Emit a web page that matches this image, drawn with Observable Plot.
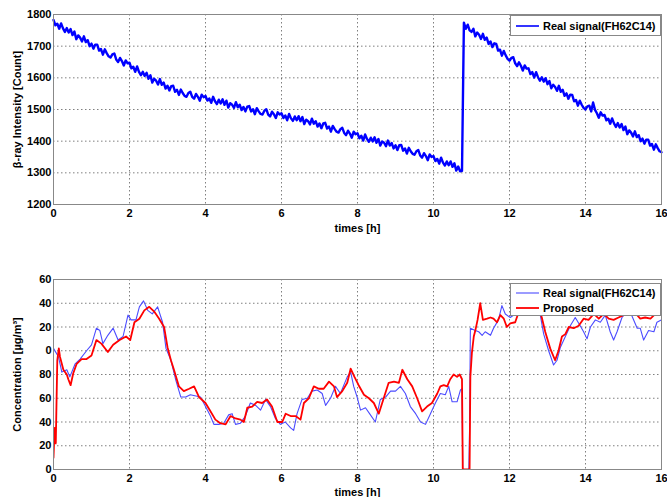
<!DOCTYPE html>
<html><head><meta charset="utf-8">
<script src="https://cdn.jsdelivr.net/npm/d3@7"></script>
<script src="https://cdn.jsdelivr.net/npm/@observablehq/plot@0.6"></script>
<style>
body{margin:0;background:#fff;}
#wrap{position:relative;width:667px;height:497px;overflow:hidden;font-family:"Liberation Sans",Arial,sans-serif;}
.panel{position:absolute;left:0;}
.legend{position:absolute;background:#fff;border:1px solid #888;box-sizing:border-box;font:bold 11px "Liberation Sans",Arial,sans-serif;color:#000;}
.item{position:absolute;left:5px;height:14px;display:flex;align-items:center;white-space:nowrap;}
.item svg{margin-right:4px;}
</style>
</head><body>
<div id="wrap"></div>
<script>
// ---------- data ----------
const xTicks = [0, 2, 4, 6, 8, 10, 12, 14, 16];
const yTicksTop = [1200, 1300, 1400, 1500, 1600, 1700, 1800];
const yTicksBottom = [0, 20, 40, 60, 80, 100, 120, 140, 160];
const yTickLabelsBottom = ["0", "20", "40", "60", "80", "0", "20", "40", "60"];

// top panel: beta-ray counts, segment 1 (0.00 h .. 10.75 h, sampled every 0.05 h)
const seg1Start = 0.0, seg1Step = 0.05;
const seg1Counts = [
 1783,1766,1771,1755,1772,1756,1745,1757,1743,1754,
 1735,1746,1722,1734,1727,1715,1731,1713,1719,1700,
 1708,1692,1705,1705,1686,1691,1673,1690,1678,1668,
 1664,1674,1677,1658,1650,1663,1653,1639,1655,1646,
 1648,1630,1635,1619,1636,1619,1608,1619,1606,1616,
 1597,1608,1585,1597,1591,1579,1596,1578,1585,1566,
 1575,1560,1574,1575,1556,1562,1546,1563,1552,1543,
 1540,1552,1556,1540,1534,1549,1540,1528,1547,1539,
 1543,1528,1535,1521,1540,1526,1517,1531,1519,1532,
 1515,1528,1506,1520,1515,1505,1523,1507,1515,1498,
 1508,1494,1509,1511,1494,1501,1485,1504,1494,1486,
 1484,1496,1501,1484,1478,1493,1485,1473,1491,1484,
 1488,1473,1481,1466,1486,1472,1464,1478,1466,1479,
 1463,1476,1454,1468,1463,1453,1471,1455,1463,1446,
 1456,1441,1456,1458,1440,1446,1430,1448,1438,1430,
 1427,1438,1442,1426,1419,1433,1424,1411,1430,1422,
 1425,1409,1417,1402,1421,1407,1398,1411,1399,1412,
 1395,1407,1386,1399,1395,1384,1402,1386,1394,1377,
 1387,1372,1387,1388,1370,1377,1361,1379,1368,1360,
 1357,1368,1372,1355,1348,1362,1353,1340,1358,1350,
 1353,1337,1344,1329,1348,1332,1323,1336,1324,1336,
 1319,1330,1307,1320,1305,1306
];
// segment 2 (10.80 h .. 16.00 h, sampled every 0.05 h)
const seg2Start = 10.8, seg2Step = 0.05;
const seg2Counts = [
 1774,1755,1768,1750,
 1745,1755,1731,1743,1736,1723,1739,1720,1727,1707,
 1715,1697,1709,1707,1686,1689,1670,1685,1671,1660,
 1654,1663,1665,1646,1637,1649,1638,1623,1639,1629,
 1630,1612,1618,1601,1618,1602,1591,1602,1588,1599,
 1580,1590,1567,1578,1571,1559,1575,1556,1562,1543,
 1551,1534,1547,1546,1526,1530,1512,1528,1515,1505,
 1500,1510,1512,1494,1522,1499,1488,1474,1491,1481,
 1483,1466,1471,1455,1472,1456,1445,1457,1443,1454,
 1435,1446,1422,1434,1427,1415,1431,1413,1419,1400,
 1408,1392,1405,1405,1386,1391,1373,1390,1378,1368,
 1365
];

// bottom panel: real signal
const realT = [0,0.13,0.22,0.35,0.43,0.57,0.7,0.87,1.0,1.13,1.22,1.3,1.43,1.57,1.7,1.83,1.96,2.04,2.17,2.26,2.37,2.48,2.6,2.74,2.87,2.96,3.09,3.22,3.35,3.48,3.6,3.87,4.0,4.13,4.22,4.35,4.48,4.61,4.7,4.79,4.92,5.05,5.18,5.32,5.45,5.58,5.71,5.84,5.97,6.1,6.24,6.32,6.41,6.54,6.68,6.8,6.94,7.07,7.16,7.29,7.42,7.55,7.73,7.82,7.9,7.99,8.08,8.21,8.34,8.47,8.6,8.74,8.87,9.0,9.13,9.26,9.39,9.53,9.66,9.79,9.92,10.05,10.18,10.31,10.4,10.49,10.62,10.71,10.75,10.77,10.93,10.95,10.97,11.1,11.19,11.28,11.36,11.5,11.58,11.71,11.8,11.89,12.02,12.15,12.3,12.45,12.6,12.75,12.81,12.9,13.03,13.16,13.25,13.34,13.47,13.6,13.73,13.86,13.95,14.04,14.13,14.26,14.39,14.52,14.65,14.74,14.83,14.96,15.09,15.2,15.36,15.44,15.53,15.66,15.8,15.88,16.0];
const realV = [102,95,82,84,78,89,93,100,105,119,117,106,113,119,109,112,130,126,126,137,142,134,131,137,124,102,92,75,61,61,63,61,53,45,38,38,39,46,47,38,39,45,56,54,50,59,53,43,38,40,35,33,47,59,60,66,67,64,54,60,70,64,78,82,70,61,50,52,46,40,59,61,66,66,70,64,53,47,40,38,47,56,64,63,70,57,57,67,68,0,0,35,119,117,116,113,116,113,119,126,138,131,128,131,140,146,142,136,130,114,100,88,92,103,112,121,128,121,116,110,120,126,124,130,116,109,116,128,133,131,119,119,109,117,116,124,126];

// bottom panel: proposed
const propT = [0,0.03,0.06,0.1,0.14,0.17,0.26,0.35,0.39,0.45,0.52,0.61,0.74,0.87,1.0,1.13,1.26,1.43,1.57,1.74,1.91,2.02,2.13,2.26,2.39,2.52,2.65,2.78,2.91,3.0,3.09,3.17,3.3,3.43,3.57,3.7,3.83,4.0,4.13,4.26,4.39,4.53,4.66,4.79,4.92,5.01,5.1,5.23,5.36,5.49,5.62,5.75,5.89,6.02,6.11,6.24,6.37,6.5,6.59,6.72,6.85,6.98,7.11,7.25,7.38,7.46,7.6,7.73,7.82,7.92,8.03,8.17,8.3,8.43,8.56,8.69,8.82,8.96,9.09,9.18,9.31,9.44,9.57,9.7,9.83,9.96,10.1,10.18,10.27,10.36,10.44,10.53,10.62,10.69,10.75,10.77,10.95,10.97,11.01,11.06,11.1,11.16,11.23,11.3,11.41,11.5,11.58,11.67,11.76,11.85,11.93,12.02,12.15,12.3,12.45,12.6,12.75,12.81,12.85,12.94,13.07,13.2,13.29,13.38,13.47,13.56,13.69,13.82,13.95,14.08,14.22,14.35,14.48,14.61,14.74,14.87,15.0,15.15,15.3,15.36,15.44,15.57,15.71,15.84,15.93,16.0];
const propV = [10,35,22,92,102,95,84,80,76,71,81,89,93,93,96,109,106,99,105,109,112,109,124,127,134,137,133,127,120,103,92,84,70,66,68,70,61,56,49,42,39,38,45,43,42,40,52,53,57,56,59,53,40,40,47,45,45,42,56,60,70,68,68,74,70,61,66,73,85,78,71,63,60,56,47,60,73,74,73,84,76,70,60,49,53,56,64,70,71,70,76,80,78,80,76,0,0,78,98,112,117,126,140,126,127,128,127,124,130,127,120,123,124,138,145,142,135,132,128,116,102,92,100,112,114,120,119,121,127,126,131,127,131,127,126,128,130,136,133,130,127,128,127,131,134,141];

// ---------- build tables ----------
const topData = [
  ...seg1Counts.map((v, i) => ({t: seg1Start + i * seg1Step, v})),
  ...seg2Counts.map((v, i) => ({t: seg2Start + i * seg2Step, v}))
];
const realData = realT.map((t, i) => ({t, v: realV[i]}));
const propData = propT.map((t, i) => ({t, v: propV[i]}));

const font = "'Liberation Sans', Arial, sans-serif";
const style = {fontFamily: font, fontSize: "11px", fontWeight: "bold", color: "#000", background: "transparent", overflow: "visible"};
const gridStyle = {stroke: "#000", strokeOpacity: 0.5, strokeDasharray: "1.5,2.5"};

const topPlot = Plot.plot({
  width: 667, height: 240,
  marginTop: 14, marginBottom: 36, marginLeft: 53, marginRight: 6,
  style,
  x: {domain: [0, 16]},
  y: {domain: [1200, 1800]},
  marks: [
    Plot.gridX(xTicks, gridStyle),
    Plot.gridY(yTicksTop, gridStyle),
    Plot.line(topData, {x: "t", y: "v", stroke: "#0000ff", strokeWidth: 2.4}),
    Plot.frame({stroke: "#888"}),
    Plot.axisX(xTicks, {tickSize: 0, tickPadding: 5, tickFormat: d => String(d), label: "times [h]", labelAnchor: "center", labelOffset: 27, labelArrow: "none"}),
    Plot.axisY(yTicksTop, {tickSize: 0, tickPadding: 2, tickFormat: d => String(d), label: "β-ray Intensity [Count]", labelAnchor: "center", labelOffset: 40, labelArrow: "none"})
  ]
});

const botPlot = Plot.plot({
  width: 667, height: 257,
  marginTop: 39, marginBottom: 28, marginLeft: 53, marginRight: 6,
  style,
  x: {domain: [0, 16]},
  y: {domain: [0, 160]},
  marks: [
    Plot.gridX(xTicks, gridStyle),
    Plot.gridY(yTicksBottom, gridStyle),
    Plot.line(realData, {x: "t", y: "v", stroke: "#4b4bff", strokeWidth: 1.1, clip: true}),
    Plot.line(propData, {x: "t", y: "v", stroke: "#ff0000", strokeWidth: 1.8, clip: true}),
    Plot.frame({stroke: "#888"}),
    Plot.axisX(xTicks, {tickSize: 0, tickPadding: 5, tickFormat: d => String(d), label: "times [h]", labelAnchor: "center", labelOffset: 26, labelArrow: "none"}),
    Plot.axisY(yTicksBottom, {tickSize: 0, tickPadding: 2, tickFormat: d => yTickLabelsBottom[yTicksBottom.indexOf(d)], label: "Concentration [µg/m³]", labelAnchor: "center", labelOffset: 40, labelArrow: "none"})
  ]
});

const wrap = document.getElementById("wrap");
const p1 = document.createElement("div"); p1.className = "panel"; p1.style.top = "0px"; p1.appendChild(topPlot);
const p2 = document.createElement("div"); p2.className = "panel"; p2.style.top = "240px"; p2.appendChild(botPlot);
wrap.appendChild(p1); wrap.appendChild(p2);

function lineSample(color, w) {
  return `<svg width="23" height="4"><line x1="0" x2="23" y1="2" y2="2" stroke="${color}" stroke-width="${w}"/></svg>`;
}
const leg1 = document.createElement("div");
leg1.className = "legend";
Object.assign(leg1.style, {left: "510px", top: "15px", width: "151px", height: "21px"});
leg1.innerHTML = `<div class="item" style="top:3px">${lineSample("#0000ff", 1.6)}Real signal(FH62C14)</div>`;
wrap.appendChild(leg1);

const leg2 = document.createElement("div");
leg2.className = "legend";
Object.assign(leg2.style, {left: "510px", top: "283px", width: "151px", height: "33px"});
leg2.innerHTML = `<div class="item" style="top:2px">${lineSample("#4b4bff", 1.1)}Real signal(FH62C14)</div>` +
  `<div class="item" style="top:17px">${lineSample("#ff0000", 1.8)}Proposed</div>`;
wrap.appendChild(leg2);
</script>
</body></html>
